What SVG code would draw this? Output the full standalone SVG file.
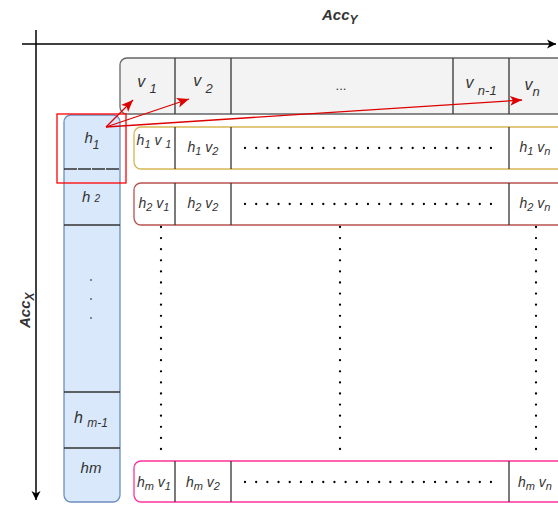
<svg xmlns="http://www.w3.org/2000/svg" width="558" height="506" viewBox="0 0 558 506">
  <style>
    text { font-family: "Liberation Sans", Arial, sans-serif; fill: #333333; font-style: italic; }
    .t { font-size: 14px; text-anchor: middle; }
    .s { font-size: 11px; }
    .v { font-size: 16px; text-anchor: middle; }
    .vs { font-size: 13px; }
    .axis { stroke: #000000; stroke-width: 1.5; fill: none; }
    .div { stroke: #333333; stroke-width: 1.3; }
    .dots { stroke: #000000; stroke-width: 2.3; stroke-linecap: round; fill: none; }
    .red { stroke: #dd0000; stroke-width: 1.3; fill: none; }
  </style>
  <defs>
    <marker id="blackArrow" markerWidth="10" markerHeight="10" refX="9" refY="5" orient="auto" markerUnits="userSpaceOnUse">
      <path d="M0,0.5 L9,5 L0,9.5 L2.5,5 Z" fill="#000000"/>
    </marker>
    <marker id="redArrow" markerWidth="13" markerHeight="11" refX="12" refY="5.5" orient="auto" markerUnits="userSpaceOnUse">
      <path d="M0,0.5 L12,5.5 L0,10.5 L3,5.5 Z" fill="#dd0000"/>
    </marker>
  </defs>

  <!-- axes -->
  <g id="axes">
    <line class="axis" x1="22" y1="44" x2="556" y2="44" marker-end="url(#blackArrow)"/>
    <line class="axis" x1="36" y1="30" x2="36" y2="500" marker-end="url(#blackArrow)"/>
    <text x="322" y="20" style="font-size:15px;font-weight:bold">Acc<tspan dy="4" style="font-size:12px">Y</tspan></text>
    <text transform="translate(30,328) rotate(-90)" style="font-size:15px;font-weight:bold">Acc<tspan dy="4" style="font-size:12px">X</tspan></text>
  </g>

  <!-- column vector v -->
  <g id="v-row">
    <rect x="120" y="58" width="460" height="56" rx="7" fill="#f3f3f3" stroke="#666666" stroke-width="1.3"/>
    <line class="div" x1="175" y1="58" x2="175" y2="114"/>
    <line class="div" x1="231" y1="58" x2="231" y2="114"/>
    <line class="div" x1="453" y1="58" x2="453" y2="114"/>
    <line class="div" x1="509" y1="58" x2="509" y2="114"/>
    <text class="v" x="147" y="87">v <tspan class="vs" dy="6">1</tspan></text>
    <text class="v" x="203" y="86">v <tspan class="vs" dy="7">2</tspan></text>
    <text class="t" x="341" y="90" style="font-style:normal;font-size:13px">...</text>
    <text class="v" x="481" y="88">v <tspan class="vs" dy="7">n-1</tspan></text>
    <text class="v" x="532" y="90">v<tspan class="vs" dy="6">n</tspan></text>
  </g>

  <!-- row vector h -->
  <g id="h-column">
    <rect x="64" y="115" width="56" height="387" rx="7" fill="#dae8fc" stroke="#6c8ebf" stroke-width="1.3"/>
    <line class="div" x1="64" y1="169" x2="120" y2="169" stroke-dasharray="13 1"/>
    <line class="div" x1="64" y1="225" x2="120" y2="225"/>
    <line class="div" x1="64" y1="392" x2="120" y2="392"/>
    <line class="div" x1="64" y1="448" x2="120" y2="448"/>
    <text class="t" x="92" y="143" style="font-size:15px">h<tspan dy="6" style="font-size:12px">1</tspan></text>
    <text class="t" x="91" y="202" style="font-size:15px">h <tspan style="font-size:10px">2</tspan></text>
    <circle cx="91" cy="280" r="1" fill="#666666"/>
    <circle cx="91" cy="299" r="1" fill="#666666"/>
    <circle cx="91" cy="318" r="1" fill="#666666"/>
    <text class="t" x="91" y="423" style="font-size:16px">h <tspan dy="4" style="font-size:12px">m-1</tspan></text>
    <text class="t" x="91" y="473" style="font-size:15px">hm</text>
  </g>

  <!-- product row 1 -->
  <g id="row-1">
    <rect x="134" y="127" width="440" height="42" rx="7" fill="#ffffff" stroke="#d6b656" stroke-width="1.3"/>
    <line class="div" x1="175" y1="127" x2="175" y2="169"/>
    <line class="div" x1="231" y1="127" x2="231" y2="169"/>
    <line class="div" x1="509" y1="127" x2="509" y2="169"/>
    <text class="t" x="154" y="145">h<tspan class="s" dy="3">1</tspan><tspan dy="-3"> v </tspan><tspan class="s" dy="3">1</tspan></text>
    <text class="t" x="203" y="152">h<tspan class="s" dy="3">1</tspan><tspan dy="-3"> v</tspan><tspan class="s" dy="3">2</tspan></text>
    <text class="t" x="535" y="152">h<tspan class="s" dy="3">1</tspan><tspan dy="-3"> v</tspan><tspan class="s" dy="3">n</tspan></text>
    <path class="dots" d="M245,148 H491" stroke-dasharray="0 11.18"/>
  </g>

  <!-- product row 2 -->
  <g id="row-2">
    <rect x="134" y="183" width="440" height="42" rx="7" fill="#ffffff" stroke="#b85450" stroke-width="1.3"/>
    <line class="div" x1="175" y1="183" x2="175" y2="225"/>
    <line class="div" x1="231" y1="183" x2="231" y2="225"/>
    <line class="div" x1="509" y1="183" x2="509" y2="225"/>
    <text class="t" x="154" y="208">h<tspan class="s" dy="3">2</tspan><tspan dy="-3"> v</tspan><tspan class="s" dy="3">1</tspan></text>
    <text class="t" x="203" y="208">h<tspan class="s" dy="3">2</tspan><tspan dy="-3"> v</tspan><tspan class="s" dy="3">2</tspan></text>
    <text class="t" x="535" y="208">h<tspan class="s" dy="3">2</tspan><tspan dy="-3"> v</tspan><tspan class="s" dy="3">n</tspan></text>
    <path class="dots" d="M245,204 H491" stroke-dasharray="0 11.18"/>
  </g>

  <!-- product row m -->
  <g id="row-m">
    <rect x="134" y="461" width="440" height="41" rx="7" fill="#ffffff" stroke="#ff3399" stroke-width="1.3"/>
    <line class="div" x1="175" y1="461" x2="175" y2="502"/>
    <line class="div" x1="231" y1="461" x2="231" y2="502"/>
    <line class="div" x1="509" y1="461" x2="509" y2="502"/>
    <text class="t" x="154" y="487">h<tspan class="s" dy="3">m</tspan><tspan dy="-3"> v</tspan><tspan class="s" dy="3">1</tspan></text>
    <text class="t" x="203" y="487">h<tspan class="s" dy="3">m</tspan><tspan dy="-3"> v</tspan><tspan class="s" dy="3">2</tspan></text>
    <text class="t" x="535" y="487">h<tspan class="s" dy="3">m</tspan><tspan dy="-3"> v</tspan><tspan class="s" dy="3">n</tspan></text>
    <path class="dots" d="M245,482 H491" stroke-dasharray="0 11.18"/>
  </g>

  <!-- connectors: vertical ellipsis columns and highlight arrows -->
  <g id="connectors">
    <path class="dots" d="M161,227 V460" stroke-dasharray="0 11.1"/>
    <path class="dots" d="M340,227 V460" stroke-dasharray="0 11.1"/>
    <path class="dots" d="M536,227 V460" stroke-dasharray="0 11.1"/>
    <rect x="57" y="114" width="69" height="69" fill="none" stroke="#ff0000" stroke-width="1.3"/>
    <line class="red" x1="106" y1="127" x2="133" y2="100" marker-end="url(#redArrow)"/>
    <line class="red" x1="106" y1="127" x2="189" y2="99" marker-end="url(#redArrow)"/>
    <line class="red" x1="106" y1="127" x2="522" y2="100" marker-end="url(#redArrow)"/>
  </g>
</svg>
